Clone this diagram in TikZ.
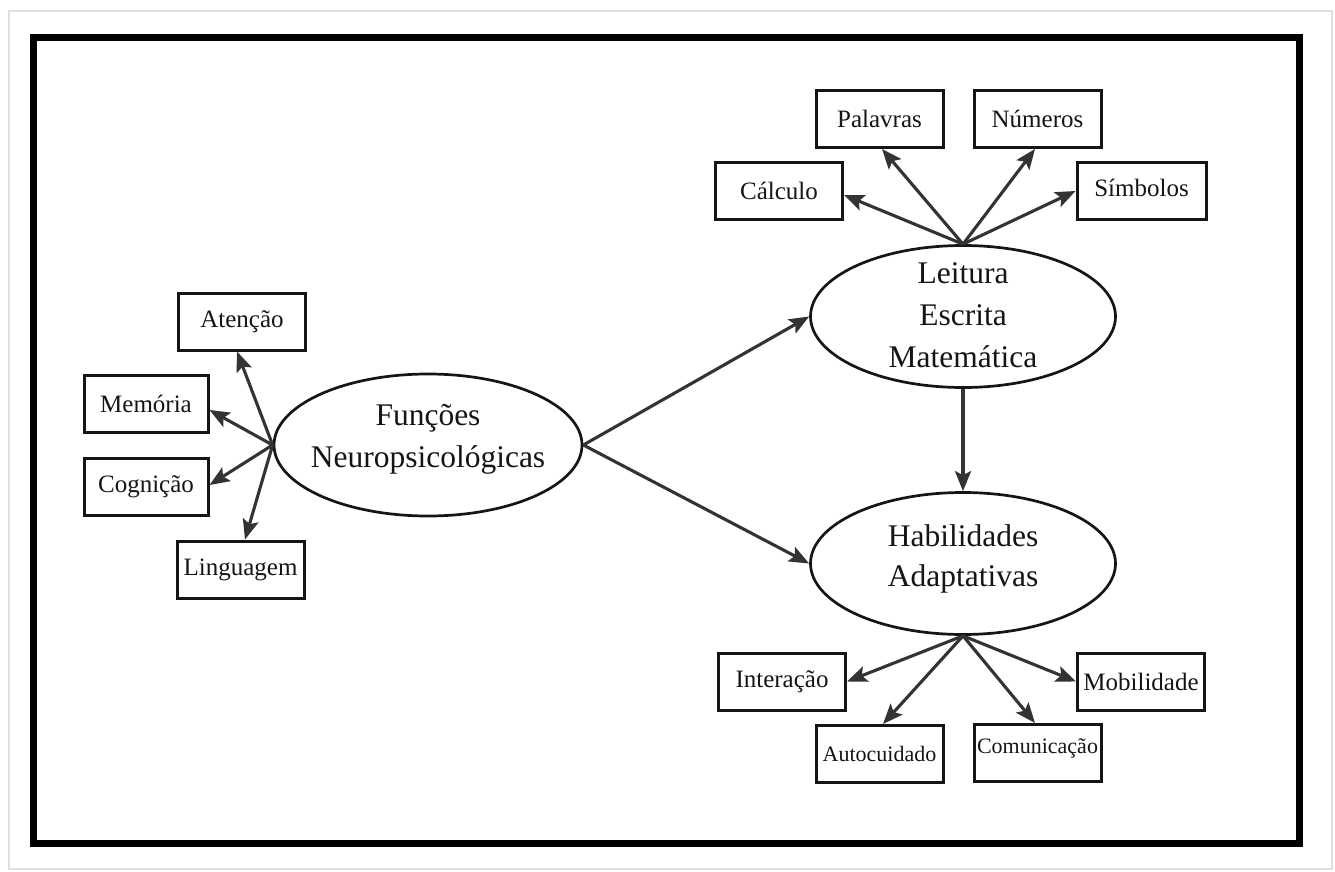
\documentclass[tikz,border=0pt]{standalone}
\usepackage{fontspec}
\setmainfont{Liberation Serif}
\usetikzlibrary{shapes.geometric,arrows.meta,calc}
\definecolor{arr}{HTML}{333333}
\definecolor{ink}{HTML}{151515}
\begin{document}
\begin{tikzpicture}[x=1pt,y=-1pt,
  box/.style={draw=ink, line width=3pt, minimum width=127pt, minimum height=57pt, inner sep=0pt, font=\fontsize{25}{30}\selectfont, text=ink},
  smallbox/.style={box, font=\fontsize{22}{26}\selectfont},
  oval/.style={draw=ink, line width=2.7pt, ellipse, minimum width=305pt, minimum height=142pt, inner sep=0pt},
  otext/.style={align=center, font=\fontsize{31.5}{42}\selectfont, text=ink, inner sep=0pt},
  link/.style={draw=arr, line width=3.1pt, -{Stealth[length=20pt,width=16pt,inset=4pt]}}]
\useasboundingbox (0,0) rectangle (1335,872);
\fill[white] (0,0) rectangle (1335,872);
% frames
\draw[gray!25, line width=2pt] (9,11) rectangle (1332,869);
\draw[black, line width=7pt] (33.5,38) rectangle (1299.5,843.5);

% central ellipses
\node[oval, minimum width=308pt] (F) at (428,445) {};
\node[otext] (Ft) at (428,439) {Funções\\Neuropsicológicas};
\node[oval] (L) at (963,316.5) {};
\node[otext] (Lt) at (963,315) {Leitura\\Escrita\\Matemática};
\node[oval] (H) at (963,563.5) {};
\node[otext, font=\fontsize{31.5}{40.5}\selectfont] (Ht) at (963,559) {Habilidades\\Adaptativas};

% left boxes
\node[box] (at) at (242,321.5) {Atenção};
\node[box, minimum width=124pt] (me) at (146,404) {Memória};
\node[box, minimum width=124pt] (cg) at (146,487) {Cognição};
\node[box] (li) at (240.5,569.5) {Linguagem};

% top boxes
\node[box] (ca) at (779,191) {Cálculo};
\node[box] (pa) at (879.5,119) {Palavras};
\node[box] (nu) at (1037.5,119) {Números};
\node[box, minimum width=129pt] (si) at (1141.5,191) {\raisebox{3pt}[\height][\depth]{Símbolos}};

% bottom boxes
\node[box] (in) at (782,681.5) {Interação};
\node[smallbox] (au) at (879.5,754) {Autocuidado};
\node[smallbox] (co) at (1037.5,753) {\raisebox{5pt}[\height][\depth]{Comunicação}};
\node[box] (mo) at (1141,681.5) {Mobilidade};

% connectors left
\draw[link] (F.west) -- ($(at.south)+(-5,0)$);
\draw[link] (F.west) -- ($(me.east)+(0,6)$);
\draw[link] (F.west) -- ($(cg.east)+(0,-2)$);
\draw[link] (F.west) -- ($(li.north)+(4.5,0)$);

% connectors middle
\draw[link] (F.east) -- (L.west);
\draw[link] (F.east) -- (H.west);
\draw[link] (L.south) -- (H.north);

% connectors top
\draw[link] (L.north) -- ($(ca.east)+(0,4)$);
\draw[link] (L.north) -- ($(pa.south)+(2.5,0)$);
\draw[link] (L.north) -- ($(nu.south)+(-2.5,0)$);
\draw[link] (L.north) -- (si.west);

% connectors bottom
\draw[link] (H.south) -- (in.east);
\draw[link] (H.south) -- ($(au.north)+(3.5,0)$);
\draw[link] (H.south) -- ($(co.north)+(-2.5,0)$);
\draw[link] (H.south) -- (mo.west);
\end{tikzpicture}
\end{document}
